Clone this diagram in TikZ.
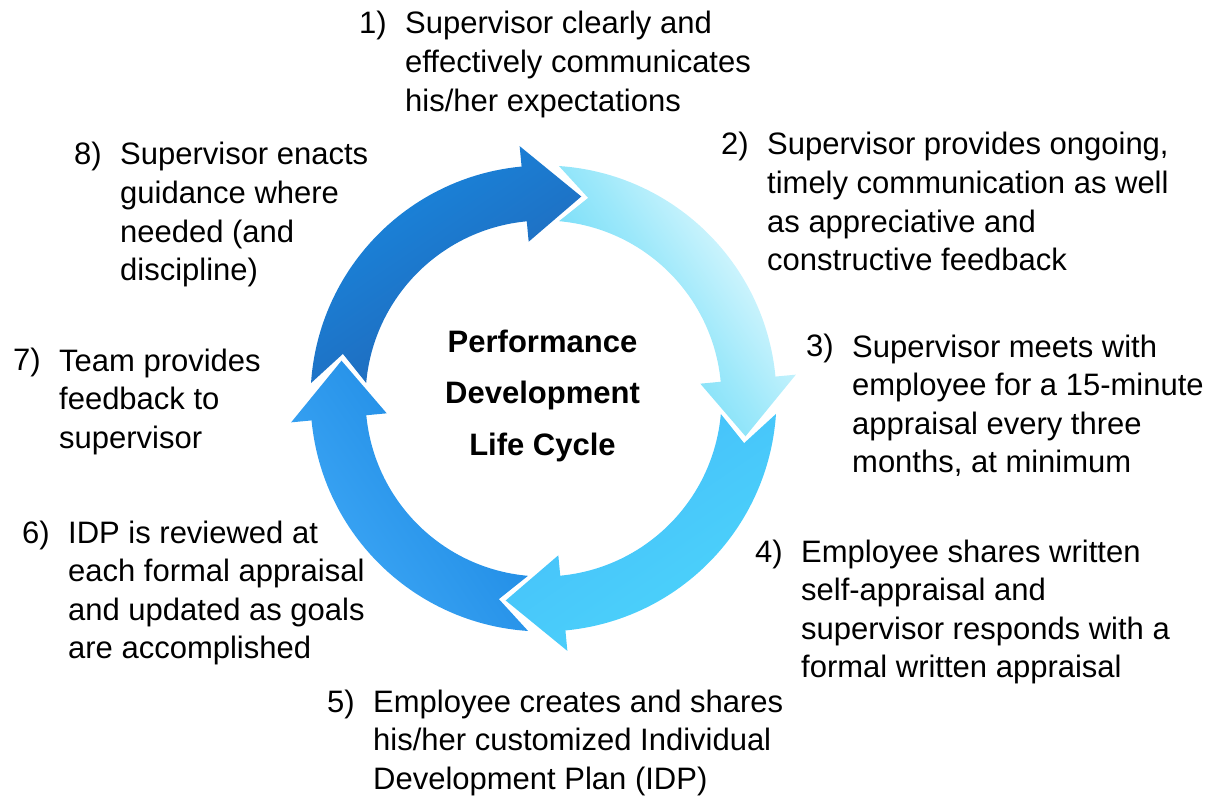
\documentclass[tikz,border=0pt]{standalone}
\usepackage{fontspec}
\setmainfont{Liberation Sans}
\usetikzlibrary{positioning}

\definecolor{topTail}{HTML}{1888E0}
\definecolor{topTip}{HTML}{2264B4}
\definecolor{rightTail}{HTML}{F2FDFF}
\definecolor{rightMid}{HTML}{9CE8FA}
\definecolor{rightTip}{HTML}{55D3F6}
\definecolor{lowTail}{HTML}{4CD4FA}
\definecolor{lowTip}{HTML}{45BDFA}
\definecolor{leftTail}{HTML}{3FA9F7}
\definecolor{leftTip}{HTML}{1985E0}

\begin{document}
\begin{tikzpicture}[x=1pt,y=1pt]
  \tikzstyle{num}=[inner sep=0pt,anchor=base west,font=\fontsize{31}{38.6}\selectfont]
  \tikzstyle{item}=[num,align=left]
  \tikzstyle{title}=[inner sep=0pt,anchor=base,align=center,font=\fontsize{31}{51.5}\selectfont\bfseries]
  \tikzstyle{ring}=[draw=none]

  \useasboundingbox (0,0) rectangle (1214,796);

  \begin{scope}[shift={(543.5,397.5)}]
    % top arrow
    \path [ring,left color=topTail,right color=topTip,shading angle=34.4]
      (176.2:233pt) arc[start angle=176.2,end angle=95.4,radius=233pt]
      -- (95.4:253.5pt) -- (79.4:205.5pt) -- (95.4:157.5pt) -- (95.4:178pt)
      arc[start angle=95.4,end angle=175,radius=178pt] -- (167.45:205.5pt) -- cycle;
    % right arrow
    \path [ring,left color=rightTail,right color=rightTip,middle color=rightMid,shading angle=-55.6]
      (86.2:233pt) arc[start angle=86.2,end angle=5.4,radius=233pt]
      -- (5.4:253.5pt) -- (-10.6:205.5pt) -- (5.4:157.5pt) -- (5.4:178pt)
      arc[start angle=5.4,end angle=85,radius=178pt] -- (77.45:205.5pt) -- cycle;
    % lower arrow
    \path [ring,left color=lowTail,right color=lowTip,shading angle=-145.6]
      (-3.8:233pt) arc[start angle=-3.8,end angle=-84.6,radius=233pt]
      -- (-84.6:253.5pt) -- (-100.6:205.5pt) -- (-84.6:157.5pt) -- (-84.6:178pt)
      arc[start angle=-84.6,end angle=-5,radius=178pt] -- (-12.55:205.5pt) -- cycle;
    % left arrow
    \path [ring,left color=leftTail,right color=leftTip,shading angle=124.4]
      (-93.8:233pt) arc[start angle=-93.8,end angle=-174.6,radius=233pt]
      -- (-174.6:253.5pt) -- (-190.6:205.5pt) -- (-174.6:157.5pt) -- (-174.6:178pt)
      arc[start angle=-174.6,end angle=-95,radius=178pt] -- (-102.55:205.5pt) -- cycle;
  \end{scope}

  \node [title] (cycle) at (542.5,341) {Performance\\Development\\Life Cycle};

  \node [num] (n1) at (359,762) {1)};
  \node [item,right=18pt of n1.north east,anchor=north west] (t1)
    {Supervisor clearly and\\effectively communicates\\his/her expectations};
  \node [num] (n2) at (721,641) {2)};
  \node [item,right=18pt of n2.north east,anchor=north west] (t2)
    {Supervisor provides ongoing,\\timely communication as well\\as appreciative and\\constructive feedback};
  \node [num] (n3) at (806,439) {3)};
  \node [item,right=18pt of n3.north east,anchor=north west] (t3)
    {Supervisor meets with\\employee for a 15-minute\\appraisal every three\\months, at minimum};
  \node [num] (n4) at (755,234) {4)};
  \node [item,right=18pt of n4.north east,anchor=north west] (t4)
    {Employee shares written\\self-appraisal and\\supervisor responds with a\\formal written appraisal};
  \node [num] (n5) at (327,84) {5)};
  \node [item,right=18pt of n5.north east,anchor=north west] (t5)
    {Employee creates and shares\\his/her customized Individual\\Development Plan (IDP)};
  \node [num] (n6) at (22,253) {6)};
  \node [item,right=18pt of n6.north east,anchor=north west] (t6)
    {IDP is reviewed at\\each formal appraisal\\and updated as goals\\are accomplished};
  \node [num] (n7) at (13,425) {7)};
  \node [item,right=18pt of n7.north east,anchor=north west] (t7)
    {Team provides\\feedback to\\supervisor};
  \node [num] (n8) at (74,631) {8)};
  \node [item,right=18pt of n8.north east,anchor=north west] (t8)
    {Supervisor enacts\\guidance where\\needed (and\\discipline)};
\end{tikzpicture}
\end{document}
